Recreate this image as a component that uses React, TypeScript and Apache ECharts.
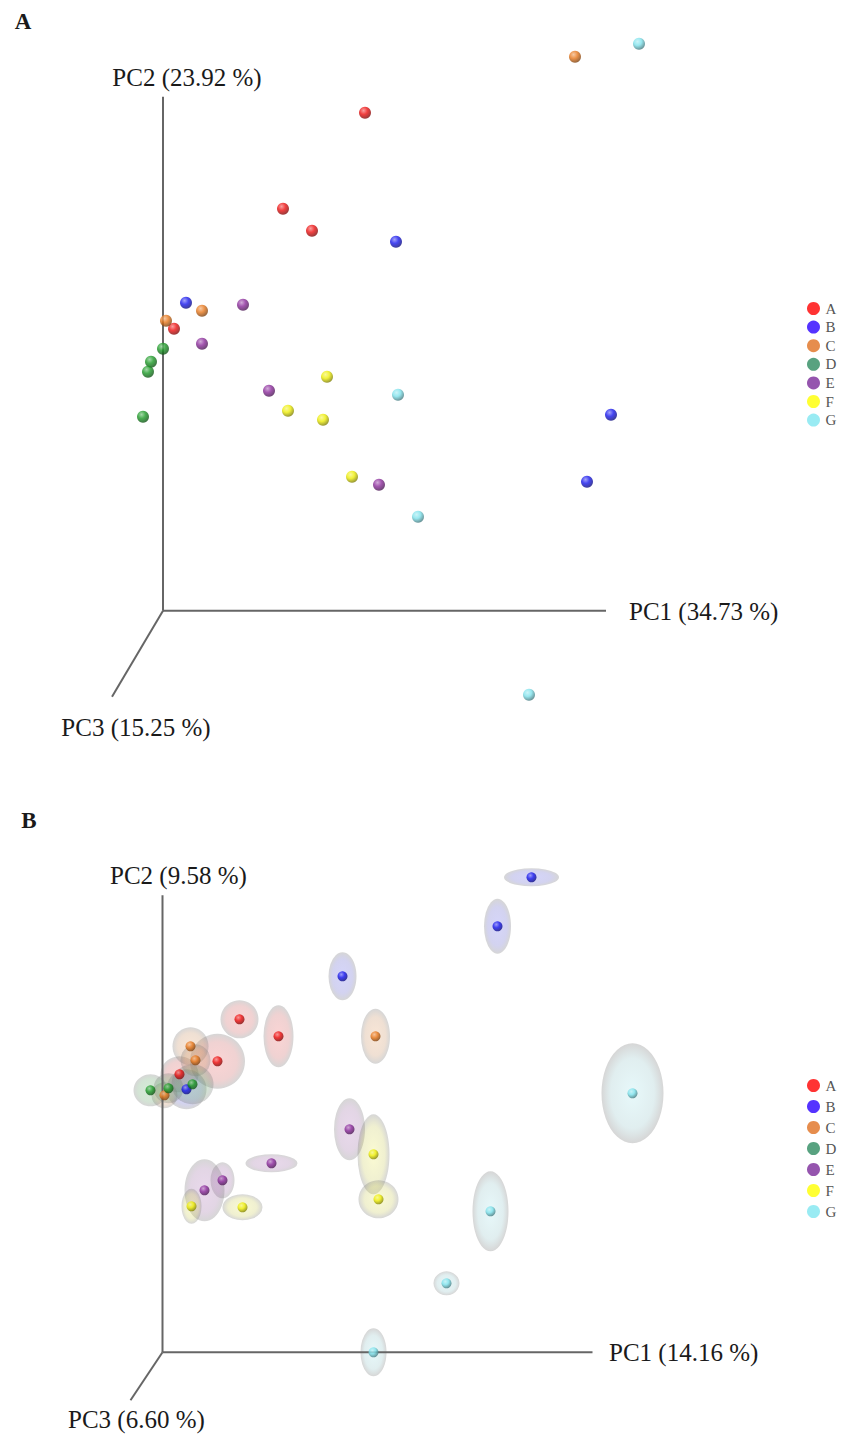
import React, { useEffect, useRef } from 'react';
import * as echarts from 'echarts';

// ---------- data ----------
const groups = ['A', 'B', 'C', 'D', 'E', 'F', 'G'];
const pointColors = ['#ee1111', '#1818ee', '#e8781c', '#1c9a26', '#8c2c9c', '#eeee08', '#7ee2ec'];
const legendColors = ['#ff0000', '#2a00ff', '#e07020', '#2e8b60', '#7a2a9a', '#ffff00', '#80e6f0'];

// Panel A: projected PCoA coordinates (PC1 right, PC2 up, PC3 toward viewer)
const pcLabelsA = ['PC1 (34.73 %)', 'PC2 (23.92 %)', 'PC3 (15.25 %)'];
const axisEndsA = [[4.43, 0], [0, 5.14], [-0.51, -0.86]];
const A_A = [[2.02, 4.98], [1.20, 4.02], [1.49, 3.80], [0.11, 2.82]];
const A_B = [[2.33, 3.69], [0.23, 3.08], [4.48, 1.96], [4.24, 1.29]];
const A_C = [[4.12, 5.54], [0.39, 3.00], [0.03, 2.90]];
const A_D = [[0.0, 2.62], [-0.12, 2.49], [-0.15, 2.39], [-0.20, 1.94]];
const A_E = [[0.80, 3.06], [0.39, 2.67], [1.06, 2.20], [2.16, 1.26]];
const A_F = [[1.64, 2.34], [1.25, 2.00], [1.60, 1.91], [1.89, 1.34]];
const A_G = [[4.76, 5.67], [2.35, 2.16], [2.55, 0.94], [3.66, -0.84]];
const panelA = [A_A, A_B, A_C, A_D, A_E, A_F, A_G];

// Panel B: points [x, y, ellipse width, ellipse height]
const pcLabelsB = ['PC1 (14.16 %)', 'PC2 (9.58 %)', 'PC3 (6.60 %)'];
const axisEndsB = [[4.30, 0], [0, 4.57], [-0.32, -0.48]];
const B_A = [[0.77, 3.33, 0.38, 0.38], [1.16, 3.16, 0.30, 0.62], [0.55, 2.91, 0.55, 0.55], [0.17, 2.78, 0.38, 0.36]];
const B_B = [[3.69, 4.75, 0.55, 0.18], [3.35, 4.26, 0.27, 0.55], [1.80, 3.76, 0.28, 0.48], [0.24, 2.63, 0.40, 0.40]];
const B_C = [[2.13, 3.16, 0.29, 0.55], [0.28, 3.06, 0.36, 0.38], [0.33, 2.92, 0.30, 0.32], [0.02, 2.57, 0.26, 0.26]];
const B_D = [[-0.12, 2.62, 0.34, 0.32], [0.06, 2.64, 0.30, 0.30], [0.30, 2.68, 0.42, 0.40]];
const B_E = [[1.87, 2.23, 0.31, 0.62], [1.09, 1.89, 0.52, 0.18], [0.60, 1.72, 0.24, 0.36], [0.42, 1.62, 0.40, 0.62]];
const B_F = [[2.11, 1.98, 0.32, 0.80], [2.16, 1.53, 0.40, 0.38], [0.29, 1.46, 0.20, 0.35], [0.80, 1.45, 0.40, 0.26]];
const B_G = [[4.70, 2.59, 0.62, 1.00], [3.28, 1.41, 0.36, 0.80], [2.84, 0.69, 0.26, 0.24], [2.11, 0.0, 0.26, 0.48]];
const panelB = [B_A, B_B, B_C, B_D, B_E, B_F, B_G];

// ---------- helpers ----------
const FONT = "'Liberation Serif', 'Times New Roman', serif";
const UNIT = 100; // px per data unit (grid width 800 / x span 8)

function hexToRgb(h: string) {
  const n = parseInt(h.slice(1), 16);
  return [(n >> 16) & 255, (n >> 8) & 255, n & 255];
}
function mix(h: string, t: number[], k: number, a = 1) {
  const c = hexToRgb(h);
  const r = c.map((v, i) => Math.round(v + (t[i] - v) * k));
  return `rgba(${r[0]},${r[1]},${r[2]},${a})`;
}
function sphere(c: string) {
  return new echarts.graphic.RadialGradient(0.38, 0.32, 0.72, [
    { offset: 0, color: mix(c, [255, 255, 255], 0.5) },
    { offset: 0.45, color: c },
    { offset: 1, color: mix(c, [0, 0, 0], 0.5) },
  ]);
}
function shell(c: string) {
  return new echarts.graphic.RadialGradient(0.5, 0.5, 0.5, [
    { offset: 0, color: mix(c, [240, 240, 240], 0.4, 0.36) },
    { offset: 0.7, color: mix(c, [160, 160, 160], 0.5, 0.34) },
    { offset: 1, color: 'rgba(120,120,120,0.38)' },
  ]);
}

function axisLines(ends: number[][], gridIdx: number) {
  return ends.map((e, i) => ({
    type: 'line',
    name: 'axis' + gridIdx + i,
    xAxisIndex: gridIdx,
    yAxisIndex: gridIdx,
    data: [[0, 0], e],
    symbol: 'none',
    silent: true,
    z: 2,
    lineStyle: { color: '#666666', width: 2 },
  }));
}

export default function App() {
  const ref = useRef<HTMLDivElement>(null);
  useEffect(() => {
    const chart = echarts.init(ref.current!, null, { renderer: 'svg' });
    const series: any[] = [];
    series.push(...axisLines(axisEndsA, 0));
    series.push(...axisLines(axisEndsB, 1));
    groups.forEach((g, i) => {
      series.push({
        type: 'scatter',
        name: g,
        xAxisIndex: 0,
        yAxisIndex: 0,
        data: panelA[i],
        symbolSize: 12,
        clip: false,
        z: 4,
        itemStyle: { color: sphere(pointColors[i]) },
      });
    });
    groups.forEach((g, i) => {
      series.push({
        type: 'scatter',
        name: g + ' ellipse',
        xAxisIndex: 1,
        yAxisIndex: 1,
        data: panelB[i],
        symbol: 'circle',
        symbolSize: (v: number[]) => [v[2] * UNIT, v[3] * UNIT],
        clip: false,
        z: 1,
        silent: true,
        itemStyle: { color: shell(pointColors[i]) },
      });
    });
    groups.forEach((g, i) => {
      series.push({
        type: 'scatter',
        name: g,
        xAxisIndex: 1,
        yAxisIndex: 1,
        data: panelB[i].map((d) => [d[0], d[1]]),
        symbolSize: 10,
        clip: false,
        z: 4,
        itemStyle: { color: sphere(pointColors[i]) },
      });
    });

    const legendData = groups.map((g, i) => ({ name: g, itemStyle: { color: legendColors[i] } }));
    const legendBase = {
      orient: 'vertical',
      left: 802,
      icon: 'circle',
      itemWidth: 14,
      itemHeight: 13,
      data: legendData,
      textStyle: { fontFamily: FONT, fontSize: 15, color: '#555', lineHeight: 15 },
      selectedMode: false,
    };

    const txt = (x: number, y: number, s: string, size = 25, bold = false, align = 'center') => ({
      type: 'text',
      x,
      y,
      style: {
        text: s,
        fontFamily: FONT,
        fontSize: size,
        fontWeight: bold ? 'bold' : 'normal',
        fill: '#1a1a1a',
        align,
        verticalAlign: 'middle',
      },
    });

    chart.setOption({
      animation: false,
      backgroundColor: '#ffffff',
      grid: [
        { left: 3, top: 10.7, width: 800, height: 720 },
        { left: 2.5, top: 852.3, width: 800, height: 600 },
      ],
      xAxis: [
        { type: 'value', gridIndex: 0, min: -1.6, max: 6.4, show: false },
        { type: 'value', gridIndex: 1, min: -1.6, max: 6.4, show: false },
      ],
      yAxis: [
        { type: 'value', gridIndex: 0, min: -1.2, max: 6.0, show: false },
        { type: 'value', gridIndex: 1, min: -1.0, max: 5.0, show: false },
      ],
      legend: [
        { ...legendBase, top: 296, itemGap: 3.6 },
        { ...legendBase, top: 1073, itemGap: 6 },
      ],
      graphic: [
        txt(23, 21, 'A', 23, true),
        txt(29, 820, 'B', 23, true),
        txt(187, 77, pcLabelsA[1]),
        txt(629, 611, pcLabelsA[0], 25, false, 'left'),
        txt(136, 727, pcLabelsA[2]),
        txt(110, 875, pcLabelsB[1], 25, false, 'left'),
        txt(609, 1352, pcLabelsB[0], 25, false, 'left'),
        txt(68, 1419, pcLabelsB[2], 25, false, 'left'),
      ],
      series,
    });
    return () => chart.dispose();
  }, []);
  return (
    <div
      ref={ref}
      style={{ position: 'absolute', left: 0, top: 0, width: 845, height: 1456, background: '#fff' }}
    />
  );
}
